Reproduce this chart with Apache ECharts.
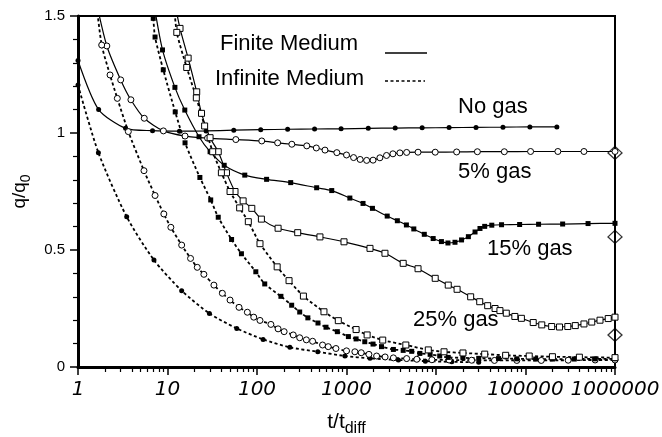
<!DOCTYPE html>
<html>
<head>
<meta charset="utf-8">
<script src="https://cdn.jsdelivr.net/npm/echarts@6/dist/echarts.min.js"></script>
<style>
  html, body { margin: 0; padding: 0; background: #fff; }
  #chart { width: 662px; height: 437px; }
</style>
</head>
<body>
<div id="chart"></div>
<script>
// [t/tdiff, q/q0]
const noGasFinite = [[1,1.31],[1.7,1.10],[3.4,1.02],[6.8,1.01],[13.6,1.008],[27,1.009],[55,1.012],[110,1.014],[220,1.016],[440,1.017],[870,1.018],[1750,1.02],[3500,1.021],[7000,1.022],[14000,1.023],[28000,1.024],[56000,1.025],[112000,1.026],[224000,1.026]];
const noGasInfinite = [[1,1.205],[1.69,0.916],[3.5,0.642],[7.06,0.457],[14.4,0.326],[29.4,0.229],[59.4,0.165],[117,0.118],[233,0.084],[478,0.065],[960,0.047],[1830,0.037],[3800,0.03],[7600,0.025],[15000,0.022],[30000,0.02]];
const gas5Finite = [[1.6,1.56],[2.1,1.372],[3.0,1.227],[3.9,1.142],[5.5,1.063],[9.0,1.009],[15.7,0.987],[28,0.978],[58,0.972],[113,0.966],[170,0.958],[245,0.952],[360,0.945],[460,0.936],[575,0.927],[780,0.916],[1000,0.906],[1200,0.895],[1420,0.887],[1680,0.883],[1980,0.884],[2360,0.894],[2800,0.904],[3300,0.911],[3950,0.915],[4700,0.917],[6300,0.918],[9800,0.918],[17000,0.919],[29000,0.92],[58000,0.92],[114000,0.921],[230000,0.921],[450000,0.921],[1000000,0.921]];
const gas5Infinite = [[1.6,1.56],[1.84,1.376],[2.28,1.248],[2.75,1.148],[3.65,1.006],[5.46,0.839],[7.26,0.733],[9.1,0.654],[10.9,0.597],[14.4,0.521],[18.1,0.464],[21.5,0.426],[25.5,0.396],[33,0.35],[41,0.315],[50,0.286],[63,0.255],[78,0.234],[92,0.213],[108,0.199],[143,0.182],[172,0.163],[201,0.151],[254,0.137],[300,0.125],[356,0.116],[418,0.11],[540,0.094],[625,0.087],[762,0.079],[1000,0.069],[1240,0.065],[1460,0.061],[1780,0.054],[2170,0.047],[2700,0.043],[3340,0.039],[4700,0.036],[6100,0.033],[9000,0.031],[14000,0.03],[25000,0.029],[45000,0.028],[80000,0.028],[150000,0.028],[300000,0.029],[600000,0.03],[1000000,0.03]];
const gas15Finite = [[7.0,1.56],[8.8,1.355],[12.1,1.195],[15.6,1.098],[22.5,0.984],[29.9,0.92],[43,0.862],[73,0.82],[128,0.802],[238,0.788],[464,0.766],[684,0.754],[1090,0.722],[1530,0.699],[1950,0.678],[2850,0.645],[3700,0.625],[4670,0.607],[5650,0.59],[7400,0.567],[9300,0.549],[11500,0.536],[13600,0.53],[16300,0.533],[19300,0.543],[23000,0.557],[27300,0.577],[31000,0.592],[35000,0.601],[42000,0.606],[54000,0.608],[86000,0.609],[140000,0.61],[260000,0.611],[500000,0.613],[1000000,0.614]];
const gas15Infinite = [[6.6,1.56],[6.93,1.49],[7.26,1.41],[8.97,1.27],[12.2,1.09],[15.7,0.958],[23,0.81],[30.4,0.714],[36.9,0.64],[52,0.545],[67,0.484],[97,0.407],[122,0.355],[185,0.302],[244,0.264],[300,0.235],[370,0.21],[480,0.188],[590,0.17],[790,0.151],[1050,0.13],[1280,0.12],[1600,0.108],[1980,0.098],[2460,0.087],[3340,0.075],[4300,0.071],[5350,0.067],[6600,0.058],[8600,0.054],[11000,0.047],[13700,0.041],[20000,0.039],[30000,0.037],[50000,0.036],[80000,0.035],[130000,0.034],[200000,0.034],[350000,0.034],[600000,0.035],[1000000,0.035]];
const gas25Finite = [[12,1.56],[13.8,1.447],[17,1.32],[21.2,1.176],[24,1.084],[29.9,0.98],[36.9,0.92],[45.6,0.83],[56.8,0.75],[70,0.71],[87.5,0.678],[112,0.632],[172,0.593],[285,0.574],[505,0.556],[938,0.535],[1830,0.507],[2690,0.486],[4300,0.443],[6300,0.42],[9800,0.379],[13700,0.35],[17200,0.332],[24400,0.3],[30800,0.279],[37800,0.262],[45700,0.25],[51800,0.241],[61000,0.23],[76000,0.216],[90000,0.208],[122000,0.19],[152000,0.18],[196000,0.173],[240000,0.171],[297000,0.173],[360000,0.177],[450000,0.184],[550000,0.192],[680000,0.2],[840000,0.207],[1000000,0.213]];
const gas25Infinite = [[11.8,1.56],[12.7,1.43],[16.4,1.28],[21,1.15],[26,1.03],[32,0.92],[40,0.83],[50,0.75],[64,0.68],[80,0.621],[108,0.527],[168,0.428],[228,0.369],[330,0.303],[560,0.236],[810,0.198],[1280,0.16],[1700,0.137],[2540,0.115],[4600,0.094],[8200,0.073],[12300,0.065],[20000,0.06],[35000,0.055],[60000,0.05],[110000,0.047],[200000,0.044],[400000,0.042],[1000000,0.04]];
const steadyState = [[1000000,0.915],[1000000,0.556],[1000000,0.137]];

const yTicks = [0, 0.5, 1, 1.5];
const xDecades = [1, 10, 100, 1000, 10000, 100000, 1000000];

// minor log ticks (2..9 in each decade), as exponents for a hidden linear axis
const minorTickExp = [];
for (let d = 0; d < 6; d++) {
  for (let m = 2; m <= 9; m++) minorTickExp.push(d + Math.log10(m));
}

const chart = echarts.init(document.getElementById('chart'));

function mkSeries(data, finite, shape, filled) {
  return {
    type: 'line',
    data: data,
    xAxisIndex: 0,
    smooth: 0.25,
    symbol: shape,
    symbolSize: filled ? 5 : 6,
    showAllSymbol: true,
    itemStyle: filled ? { color: '#000' } : { color: '#fff', borderColor: '#000', borderWidth: 1 },
    lineStyle: finite ? { color: '#000', width: 1.2 } : { color: '#000', width: 1.8, type: [3, 2.5] },
    emphasis: { disabled: true }
  };
}

const labelFont = '22px "Liberation Sans"';

const option = {
  animation: false,
  backgroundColor: '#fff',
  grid: {
    left: 78, right: 47, top: 16, bottom: 70,
    outerBoundsMode: 'none',
    show: true, borderColor: '#000', borderWidth: 2
  },
  xAxis: [
    {
      type: 'log',
      min: 1, max: 1000000,
      splitNumber: 6,
      position: 'bottom',
      axisLine: { lineStyle: { color: '#000', width: 3 } },
      axisTick: { length: 8, lineStyle: { color: '#000', width: 1.5 } },
      splitLine: { show: false },
      axisLabel: {
        margin: 13,
        color: '#000',
        fontFamily: 'DejaVu Sans',
        fontStyle: 'italic',
        fontSize: 20,
        formatter: v => String(xDecades.find(d => Math.abs(d - v) / d < 1e-6) || Math.round(v))
      },
      name: '{a|t/t}{b|diff}',
      nameLocation: 'middle',
      nameGap: 40,
      nameTextStyle: {
        rich: {
          a: { fontFamily: 'Liberation Sans', fontSize: 21, lineHeight: 30, color: '#000' },
          b: { fontFamily: 'Liberation Sans', fontSize: 16, lineHeight: 14, verticalAlign: 'bottom', color: '#000' }
        }
      }
    },
    {
      type: 'value',
      min: 0, max: 6,
      position: 'bottom',
      axisLine: { show: false },
      axisLabel: { show: false },
      splitLine: { show: false },
      axisTick: { show: true, customValues: minorTickExp, length: 5, lineStyle: { color: '#000', width: 1.2 } }
    }
  ],
  yAxis: {
    type: 'value',
    min: 0, max: 1.5, interval: 0.5,
    axisLine: { show: true, lineStyle: { color: '#000', width: 3 } },
    axisTick: { show: true, length: 8, lineStyle: { color: '#000', width: 1.5 } },
    minorTick: { show: true, splitNumber: 5, length: 5, lineStyle: { color: '#000', width: 1.2 } },
    splitLine: { show: false },
    axisLabel: {
      margin: 13,
      color: '#000',
      fontFamily: 'Liberation Sans',
      fontSize: 15,
      customValues: yTicks
    },
    name: '{a|q/q}{b|0}',
    nameLocation: 'middle',
    nameGap: 44,
    nameTextStyle: {
      rich: {
        a: { fontFamily: 'Liberation Sans', fontSize: 19, lineHeight: 26, color: '#000' },
        b: { fontFamily: 'Liberation Sans', fontSize: 14, lineHeight: 12, verticalAlign: 'bottom', color: '#000' }
      }
    }
  },
  series: [
    mkSeries(noGasFinite, true, 'circle', true),
    mkSeries(noGasInfinite, false, 'circle', true),
    mkSeries(gas5Finite, true, 'circle', false),
    mkSeries(gas5Infinite, false, 'circle', false),
    mkSeries(gas15Finite, true, 'rect', true),
    mkSeries(gas15Infinite, false, 'rect', true),
    mkSeries(gas25Finite, true, 'rect', false),
    mkSeries(gas25Infinite, false, 'rect', false),
    {
      type: 'scatter',
      data: steadyState,
      clip: false,
      symbol: 'diamond',
      symbolSize: [14, 13],
      itemStyle: { color: 'rgba(0,0,0,0)', borderColor: '#000', borderWidth: 1.3 },
      z: 5
    }
  ],
  graphic: [
    { type: 'text', left: 220, top: 33, style: { text: 'Finite Medium', font: labelFont, fill: '#000' } },
    { type: 'text', left: 215, top: 68, style: { text: 'Infinite Medium', font: labelFont, fill: '#000' } },
    { type: 'line', shape: { x1: 385, y1: 53, x2: 427, y2: 53 }, style: { stroke: '#000', lineWidth: 1.3 } },
    { type: 'line', shape: { x1: 385, y1: 81, x2: 425, y2: 81 }, style: { stroke: '#000', lineWidth: 1.6, lineDash: [3, 2.5] } },
    { type: 'text', left: 458, top: 96, style: { text: 'No gas', font: labelFont, fill: '#000' } },
    { type: 'text', left: 458, top: 161, style: { text: '5% gas', font: labelFont, fill: '#000' } },
    { type: 'text', left: 487, top: 238, style: { text: '15% gas', font: labelFont, fill: '#000' } },
    { type: 'text', left: 413, top: 309, style: { text: '25% gas', font: labelFont, fill: '#000' } }
  ]
};

chart.setOption(option);
</script>
</body>
</html>
